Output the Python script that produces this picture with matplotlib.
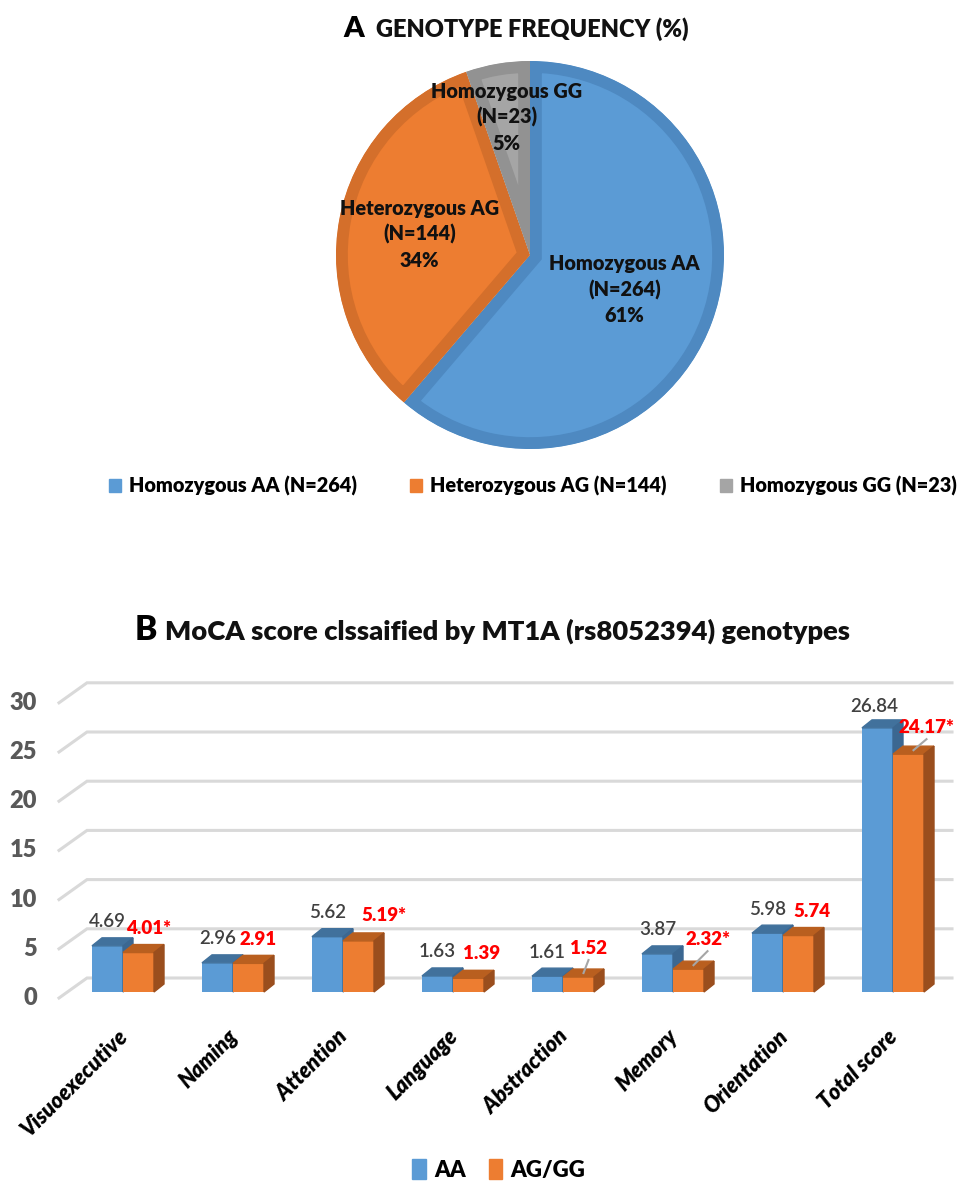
"""Genotype frequency pie (A) and MoCA score bars by MT1A genotype (B)."""
import matplotlib
matplotlib.use("Agg")
import numpy as np
import matplotlib.pyplot as plt
from matplotlib.patches import Patch, Polygon

plt.rcParams["font.family"] = ["Lato", "DejaVu Sans"]

# ---- data -------------------------------------------------------------
genotypes = ["Homozygous AA", "Heterozygous AG", "Homozygous GG"]
genotype_n = [264, 144, 23]
genotype_pct = [61, 34, 5]

domains = ["Visuoexecutive", "Naming", "Attention", "Language",
           "Abstraction", "Memory", "Orientation", "Total score"]
score_aa = [4.69, 2.96, 5.62, 1.63, 1.61, 3.87, 5.98, 26.84]
score_ag_gg = [4.01, 2.91, 5.19, 1.39, 1.52, 2.32, 5.74, 24.17]
significant = [True, False, True, False, False, True, False, True]
y_ticks = [0, 5, 10, 15, 20, 25, 30]

# ---- style / layout ---------------------------------------------------
W, H = 959, 1184
BOLD = "heavy"
pie_colors = ["#5B9BD5", "#ED7D31", "#A5A5A5"]
pie_edges = ["#4E89C1", "#D46F2B", "#929292"]
pie_label_r = [0.52, 0.58, 0.72]
blue, blue_top, blue_side = "#5B9BD5", "#41719C", "#3B6791"
orange, orange_top, orange_side = "#ED7D31", "#B95F1F", "#9A4E1D"
grid_c = "#D9D9D9"

fig = plt.figure(figsize=(W / 100, H / 100), dpi=100)


def px_box(left, top, right, bottom):
    return [left / W, 1 - bottom / H, (right - left) / W, (bottom - top) / H]


# ---- A: pie -----------------------------------------------------------
cx, cy, r = 530, 255, 194
ax_pie = fig.add_axes(px_box(cx - r, cy - r, cx + r, cy + r))
wedges, _ = ax_pie.pie(genotype_n, colors=pie_colors, startangle=90,
                       counterclock=False, radius=1)
ax_pie.set_xlim(-1, 1)
ax_pie.set_ylim(-1, 1)
ax_pie.axis("off")
for w, ec, name, n, pct, lr in zip(wedges, pie_edges, genotypes, genotype_n,
                                   genotype_pct, pie_label_r):
    # inner border only: double-width stroke clipped to the wedge itself
    w.set_edgecolor(ec)
    w.set_linewidth(17)
    w.set_clip_path(w)
    w.set_clip_on(True)
    mid = np.deg2rad((w.theta1 + w.theta2) / 2)
    ax_pie.text(lr * np.cos(mid), lr * np.sin(mid), f"{name}\n(N={n})\n{pct}%",
                ha="center", va="center", fontsize=14.3, fontweight=BOLD,
                color="#111111", linespacing=1.4)

fig.text(343 / W, 1 - 37 / H, "A", fontsize=21, fontweight=BOLD, va="baseline")
fig.text(376 / W, 1 - 37 / H, "GENOTYPE FREQUENCY (%)", fontsize=17,
         fontweight=BOLD, va="baseline", color="#111111")

fig.legend(handles=[Patch(color=c, label=f"{g} (N={n})")
                    for c, g, n in zip(pie_colors, genotypes, genotype_n)],
           loc="center", bbox_to_anchor=(533 / W, 1 - 486 / H), ncol=3,
           frameon=False, handlelength=0.6, handleheight=0.6,
           handletextpad=0.4, columnspacing=2.7,
           prop={"size": 14.3, "weight": BOLD})

# ---- B: pseudo-3D bars ------------------------------------------------
fig.text(135 / W, 1 - 640 / H, "B", fontsize=24, fontweight=BOLD, va="baseline")
fig.text(165 / W, 1 - 640 / H, "MoCA score clssaified by MT1A (rs8052394) genotypes",
         fontsize=19.7, fontweight=BOLD, va="baseline", color="#111111")

x0_px, ux, y0_px, uy = 123, 110.0, 992, 9.84       # origin and px per data unit
L, T, R, B = 50, 670, 959, 1005
ax = fig.add_axes(px_box(L, T, R, B))
ax.set_xlim((L - x0_px) / ux, (R - x0_px) / ux)
ax.set_ylim((y0_px - B) / uy, (y0_px - T) / uy)
ax.axis("off")

bw = 31 / ux
dx, dy = 10 / ux, 8 / uy
back_dy, front_dy = 14 / uy, -6 / uy
x_front, x_back, x_end = (59 - x0_px) / ux, (87 - x0_px) / ux, (952 - x0_px) / ux

for k in y_ticks:
    ax.plot([x_front, x_back, x_end], [k + front_dy, k + back_dy, k + back_dy],
            color=grid_c, lw=2.2, solid_joinstyle="miter", zorder=0)
    ax.text((37 - x0_px) / ux, k + front_dy, str(k), ha="right", va="center",
            fontsize=17, fontweight=BOLD, color="#595959")


def box3d(x0, v, front, top, side):
    x1 = x0 + bw
    ax.bar(x0, v, width=bw, align="edge", color=front, zorder=2)
    ax.add_patch(Polygon([(x0, v), (x1, v), (x1 + dx, v + dy), (x0 + dx, v + dy)],
                         closed=True, color=top, zorder=2))
    ax.add_patch(Polygon([(x1, 0), (x1 + dx, dy), (x1 + dx, v + dy), (x1, v)],
                         closed=True, color=side, zorder=2))


# label nudges in px: (dx, height above bar top)
aa_nudge = [(0, 24)] * 7 + [(-3, 21)]
ag_nudge = [(10, 24), (10, 24), (25, 25), (13, 25), (10, 29), (19, 30), (13, 24.5), (18, 27)]
leader_idx = [4, 5, 7]

for i, (a, g) in enumerate(zip(score_aa, score_ag_gg)):
    box3d(i - bw, a, blue, blue_top, blue_side)
    box3d(i, g, orange, orange_top, orange_side)
    nx, ny = aa_nudge[i]
    ax.text(i - bw / 2 + nx / ux, a + ny / uy, f"{a:.2f}", ha="center", va="center",
            fontsize=13.5, fontweight="semibold", color="#404040")
    nx, ny = ag_nudge[i]
    lx, ly = i + bw / 2 + nx / ux, g + ny / uy
    ax.text(lx, ly, f"{g:.2f}" + ("*" if significant[i] else ""), ha="center",
            va="center", fontsize=13.5, fontweight=BOLD, color="#FF0000")
    if i in leader_idx:
        ax.plot([i + bw / 2 + dx / 2, lx], [g + dy / 2, ly - 12 / uy],
                color="#A6A6A6", lw=1.5, zorder=3)
    ax.text(i - 6 / ux, (y0_px - 1026) / uy, domains[i], rotation=45,
            rotation_mode="anchor", ha="right", va="top", fontsize=15.5,
            fontweight=BOLD, fontstyle="italic", clip_on=False)

fig.legend(handles=[Patch(color=blue, label="AA"), Patch(color=orange, label="AG/GG")],
           loc="center", bbox_to_anchor=(499 / W, 1 - 1170 / H), ncol=2,
           frameon=False, handlelength=0.6, handleheight=1.0,
           handletextpad=0.4, columnspacing=1.0,
           prop={"size": 16, "weight": BOLD})

fig.savefig("out.png", dpi=100)
